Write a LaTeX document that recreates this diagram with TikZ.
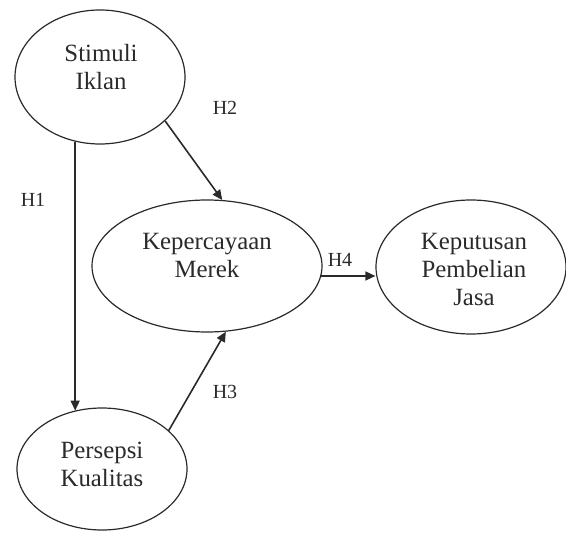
\documentclass[tikz,border=0pt]{standalone}
\usepackage{fontspec}
\setmainfont{Liberation Serif}
\usepackage{tikz}
\usetikzlibrary{positioning,arrows.meta,shapes.geometric}
\definecolor{ink}{HTML}{2A2A2A}
\tikzset{
  arr/.style={-{Triangle[length=5pt,width=4.5pt]}, line width=0.8pt, color=ink},
  var/.style={ellipse, draw=ink, line width=0.6pt, inner sep=0pt},
  vtxt/.style={font=\fontsize{12.4}{14}\selectfont, text=ink, align=center, inner sep=0pt},
  hyp/.style={font=\fontsize{10}{12}\selectfont, text=ink, inner sep=0pt},
}
\begin{document}
\begin{tikzpicture}[x=0.5pt,y=-0.5pt]
  \useasboundingbox (0,0) rectangle (566,533);

  % latent variables
  \node[var, minimum width=85pt, minimum height=67pt] (stim) at (100,77)  {};
  \node[var, minimum width=115pt, minimum height=66pt] (kep) at (207,266) {};
  \node[var, minimum width=95pt, minimum height=67pt] (kpt)  at (471,267) {};
  \node[var, minimum width=85pt, minimum height=61pt] (pers) at (102,469) {};

  % variable names
  \node[vtxt] (stimT) at (101,67)  {Stimuli\\Iklan};
  \node[vtxt] (kepT)  at (207,256) {Kepercayaan\\Merek};
  \node[vtxt] (kptT)  at (474,270) {Keputusan\\Pembelian\\Jasa};
  \node[vtxt] (persT) at (102,464) {Persepsi\\Kualitas};

  % hypothesis paths
  \draw[arr] (stim.-111) -- (stim.-111 |- pers.115);
  \draw[arr] (stim.-34) -- (kep.77.5);
  \draw[arr] (pers.30) -- (kep.-74);
  \draw[arr] (kep.-5.5) -- (kep.-5.5 -| kpt.west);

  % path labels
  \node[hyp] (h1) at (33,200)  {H1};
  \node[hyp] (h2) at (225,108) {H2};
  \node[hyp] (h3) at (225,392) {H3};
  \node[hyp] (h4) at (340,260) {H4};
\end{tikzpicture}
\end{document}
